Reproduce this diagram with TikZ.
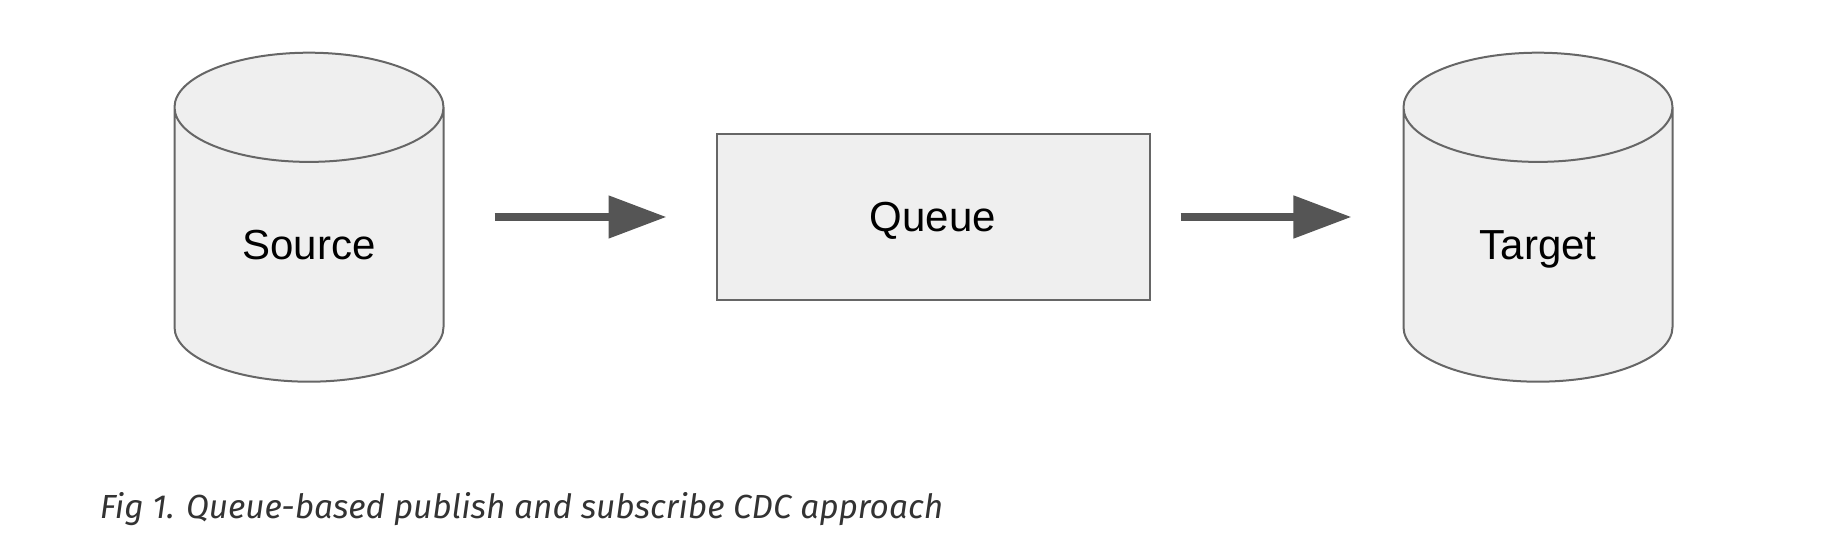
\documentclass[tikz,border=0pt]{standalone}
\usepackage{fontspec}
\setmainfont{Liberation Sans}
\newfontfamily\capfont{Fira Sans}
\usetikzlibrary{shapes.geometric, arrows.meta}

\definecolor{boxfill}{HTML}{EFEFEF}
\definecolor{boxline}{HTML}{666666}
\definecolor{arrowgray}{HTML}{555555}
\definecolor{captext}{HTML}{333333}

\begin{document}
\begin{tikzpicture}[
        x=0.5pt, y=-0.5pt,
        boxtext/.style={font=\fontsize{21}{25}\selectfont, text height=14.5pt, text depth=0pt},
        dbstore/.style={cylinder, shape border rotate=90, aspect=0.78, boxtext,
          text width=70pt, align=center,
          minimum width=134.5pt, minimum height=164.5pt, inner sep=0pt,
          fill=boxfill, draw=boxline, line width=1pt},
        qbox/.style={rectangle, minimum width=216.5pt, minimum height=83pt, boxtext,
          fill=boxfill, draw=boxline, line width=1pt},
        flow/.style={-{Triangle[length=29pt, width=20.5pt]}, line width=4pt, draw=arrowgray}
      ]

      \useasboundingbox (0,0) rectangle (1828,560);

      % stores and queue
      \node[dbstore] (source) at (309, 245) {Source};
      \node[qbox]    (queue)  at (933, 217) {Queue};
      \node[dbstore] (target) at (1538, 245) {Target};

      % data flow
      \draw[flow, shorten <=25pt, shorten >=24.5pt] (source.east |- queue.west) -- (queue.west);
      \draw[flow, shorten <=15pt, shorten >=25.5pt] (queue.east) -- (target.west |- queue.east);

      % caption
      \node[anchor=base west, inner sep=0pt, text=captext,
        font=\capfont\itshape\fontsize{16.7}{20}\selectfont] (caption) at (99.5, 519)
        {Fig 1. Queue-based publish and subscribe CDC approach};

    \end{tikzpicture}
\end{document}
